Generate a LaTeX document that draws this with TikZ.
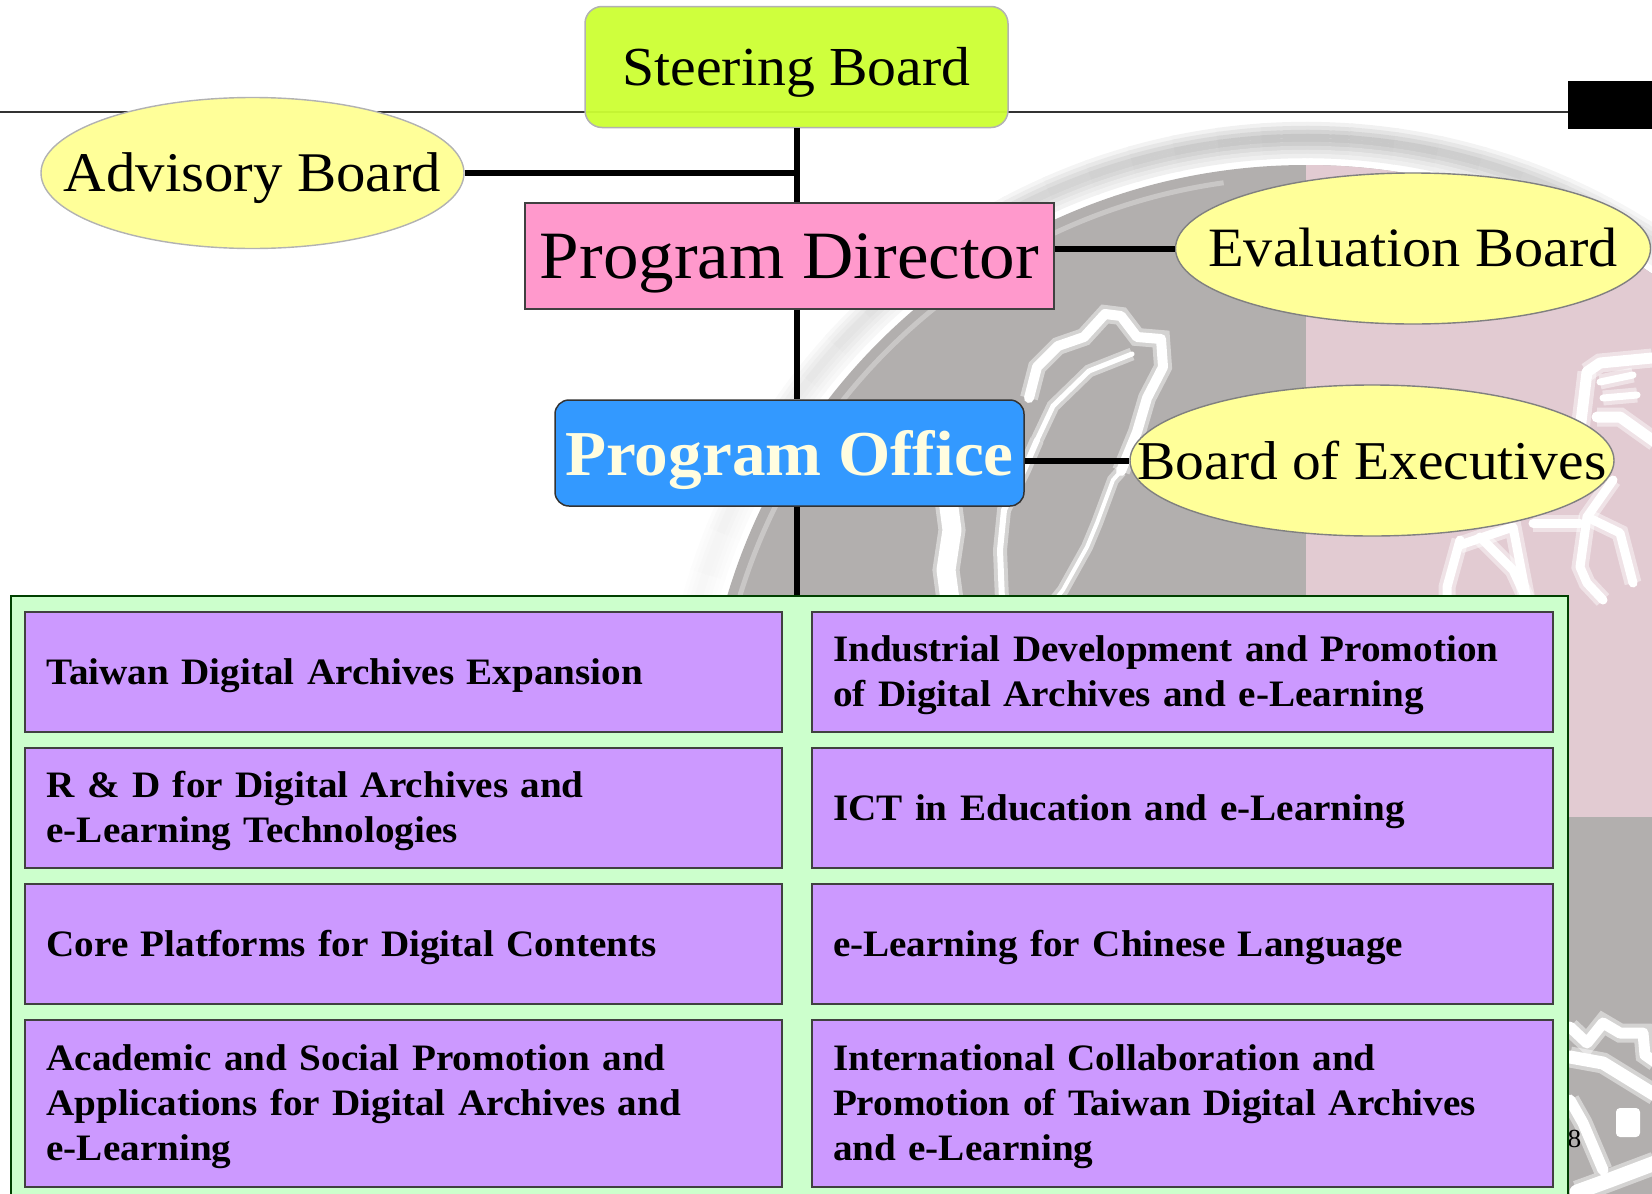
\documentclass[tikz,border=0pt]{standalone}
\usepackage{fontspec}
\usetikzlibrary{shapes.geometric}
\setmainfont[FakeStretch=1.05]{Liberation Serif}
\definecolor{sealgrey}{HTML}{B2AFAE}
\definecolor{sealpink}{HTML}{E2CBD2}
\definecolor{panelgreen}{HTML}{CCFFCC}
\definecolor{itempurple}{HTML}{CC99FF}
\definecolor{boardyellow}{HTML}{FFFF99}
\definecolor{steerlime}{HTML}{CCFF33}
\definecolor{dirpink}{HTML}{FF99CC}
\definecolor{officeblue}{HTML}{3399FF}
\newcommand{\zw}[1]{\makebox[0pt][c]{#1}}
\tikzset{
  x=1pt,y=-1pt,
  link/.style={line width=6pt,black},
  sealline/.style={white,line cap=round,line join=round,line width=7pt,
     preaction={draw,white,opacity=.45,line width=\pgflinewidth+4pt}},
  boardoval/.style={ellipse,draw=#1,line width=1.4pt,fill=boardyellow,inner sep=0pt,
     minimum height=151pt,text depth=0pt},
  itembox/.style={draw=black!75,line width=1.5pt,fill=itempurple,align=left,inner sep=0pt,
     minimum height=#1,font=\fontsize{37.3}{45}\selectfont\bfseries,
     execute at begin node={\rule{0pt}{35pt}},execute at end node={\rule[-11pt]{0pt}{11pt}}},
  leftitem/.style={itembox=#1,minimum width=757pt,text width=714pt},
  rightitem/.style={itembox=#1,minimum width=741pt,text width=699pt},
}
\begin{document}
\begin{tikzpicture}
\useasboundingbox (0,0) rectangle (1652,1194);
% watermark seal (angles: 270 is the top of the page)
\begin{scope}
  \clip (0,0) rectangle (1652,1194);
  \coordinate (sealc) at (1306,769);
  \foreach \r/\w in {645/.25,641/.5,637/.75,633/1,629/1,625/.85,621/.65,617/.45,613/.3}{
    \foreach \a in {190,194,...,346}{
      \pgfmathsetmacro{\c}{\w*(1-abs(\a+2-270)/85)*23}
      \draw[black!\c,line width=4.4pt] (sealc) ++(\a:\r) arc[start angle=\a,delta angle=4.3,radius=\r];
    }
  }
  \fill[sealgrey] (sealc) circle (604pt);
  \begin{scope}
    \clip (sealc) circle (604pt);
    \fill[sealpink] (1306,100) rectangle (1700,817);
    \draw[white,line width=5pt,opacity=.3] (sealc) ++(195:592) arc[start angle=195,end angle=262,radius=592];
  \end{scope}
  % island outline
  \draw[sealline,line width=10pt] (1029,398) -- (1037,367) -- (1058,346) -- (1084,337) -- (1105,314) -- (1121,316) -- (1137,337) -- (1161,339) -- (1163,367) -- (1147,398) -- (1137,432) -- (1121,471);
  \draw[sealline,line width=5pt] (1037,440) -- (1053,406) -- (1089,371) -- (1132,354);
  \draw[sealline,line width=4pt] (1121,471) -- (1113,480) -- (1097,523) -- (1087,547) -- (1063,590) -- (1055,600);
  \draw[sealline,line width=19pt] (948,500) -- (952,530) -- (946,570) -- (950,600);
  \draw[sealline,line width=6pt] (1037,440) -- (1024,470) -- (1004,510) -- (1000,550) -- (1002,600);
  % emblem strokes on the pink
  \draw[sealline,line width=11pt] (1587,372) -- (1600,363) -- (1652,358);
  \draw[sealline,line width=11pt] (1587,372) -- (1580,430);
  \draw[sealline] (1600,382) -- (1633,375);
  \draw[sealline] (1603,398) -- (1637,395);
  \draw[sealline,line width=11pt] (1597,417) -- (1620,417) -- (1655,442);
  \draw[sealline,line width=9pt] (1613,480) -- (1587,517) -- (1580,567) -- (1587,583) -- (1603,600);
  \draw[sealline,line width=9pt] (1587,517) -- (1620,533) -- (1633,583);
  \draw[sealline,line width=9pt] (1533,523) -- (1580,523);
  \draw[sealline,line width=9pt] (1460,540) -- (1447,587) -- (1447,600);
  \draw[sealline,line width=9pt] (1480,537) -- (1513,570) -- (1527,600);
  \draw[sealline,line width=9pt] (1460,545) -- (1513,527) -- (1527,600);
  % emblem strokes at the lower right
  \draw[sealline,line width=11pt] (1570,1027) -- (1587,1043) -- (1603,1023) -- (1620,1033) -- (1643,1033) -- (1645,1055) -- (1655,1062);
  \draw[sealline,line width=13pt] (1570,1057) -- (1603,1063) -- (1655,1095);
  \fill[white,rounded corners=4pt] (1616,1108) rectangle (1640,1137);
  \draw[sealline,line width=11pt] (1570,1100) -- (1583,1123) -- (1603,1170);
  \draw[sealline,line width=15pt] (1577,1192) -- (1610,1180) -- (1655,1163);
\end{scope}
% page rule and black tab
\coordinate (ruleL) at (0,112);
\coordinate (ruleR) at (1568,112);
\draw[black!80,line width=1.5pt] (ruleL) -- (ruleR);
\fill[black] (1568,81) rectangle (1652,128.6);
\node[font=\fontsize{26}{30}\selectfont,inner sep=0pt] (pagenum) at (1574.5,1139) {8};
% nodes
\node[draw=black!30,line width=1.5pt,fill=steerlime,fill opacity=.95,text opacity=1,rounded corners=17pt,
  minimum width=423pt,minimum height=121pt,inner sep=0pt,text height=36pt,text depth=0pt,font=\fontsize{55}{60}\selectfont] (steer) at (796.5,67) {\zw{Steering Board}};
\node[boardoval=black!30,minimum width=423pt,text height=36pt,font=\fontsize{56}{60}\selectfont] (advisory) at (252.5,173) {\zw{Advisory Board}};
\node[draw=black!75,line width=1.5pt,fill=dirpink,minimum width=529pt,minimum height=106pt,inner sep=0pt,text height=45pt,text depth=0pt,
  font=\fontsize{67.7}{70}\selectfont] (director) at (789.5,256) {\zw{Program Director}};
\node[boardoval=black!50,minimum width=475pt,text height=35pt,font=\fontsize{55.5}{60}\selectfont] (evaluation) at (1413,248.5) {\zw{Evaluation Board}};
\node[draw=black!80,line width=1.5pt,fill=officeblue,rounded corners=14pt,minimum width=469pt,minimum height=106pt,inner sep=0pt,text height=45pt,text depth=0pt,
  text=yellow!12,font=\fontsize{64}{70}\selectfont\bfseries] (office) at (789.5,453) {\zw{Program Office}};
\node[boardoval=black!50,minimum width=484pt,text height=37pt,font=\fontsize{54.7}{60}\selectfont] (executives) at (1372,460.5) {\zw{Board of Executives}};
\node[draw=green!25!black,line width=1.5pt,fill=panelgreen,minimum width=1557pt,minimum height=620pt,inner sep=0pt] (panel) at (789.5,906) {};
\node[leftitem=120pt] (t1) at (403.5,672) {Taiwan Digital Archives Expansion};
\node[leftitem=120pt] (t2) at (403.5,808) {R \& D for Digital Archives and\\e-Learning Technologies};
\node[leftitem=120pt] (t3) at (403.5,944) {Core Platforms for Digital Contents};
\node[leftitem=167pt] (t4) at (403.5,1103.5) {Academic and Social Promotion and\\Applications for Digital Archives and\\e-Learning};
\node[rightitem=120pt] (u1) at (1182.5,672) {Industrial Development and Promotion\\of Digital Archives and e-Learning};
\node[rightitem=120pt] (u2) at (1182.5,808) {ICT in Education and e-Learning};
\node[rightitem=120pt] (u3) at (1182.5,944) {e-Learning for Chinese Language};
\node[rightitem=167pt] (u4) at (1182.5,1103.5) {International Collaboration and\\Promotion of Taiwan Digital Archives\\and e-Learning};
% connectors
\draw[link] (steer.south) -- (steer.south |- director.north);
\draw[link] (advisory.east) -- (advisory.east -| steer.south);
\draw[link] (steer.south |- director.south) -- (steer.south |- office.north);
\draw[link] (steer.south |- office.south) -- (steer.south |- panel.north);
\draw[link] (evaluation.west -| director.east) -- (evaluation.west);
\draw[link] (executives.west -| office.east) -- (executives.west);
\end{tikzpicture}
\end{document}
